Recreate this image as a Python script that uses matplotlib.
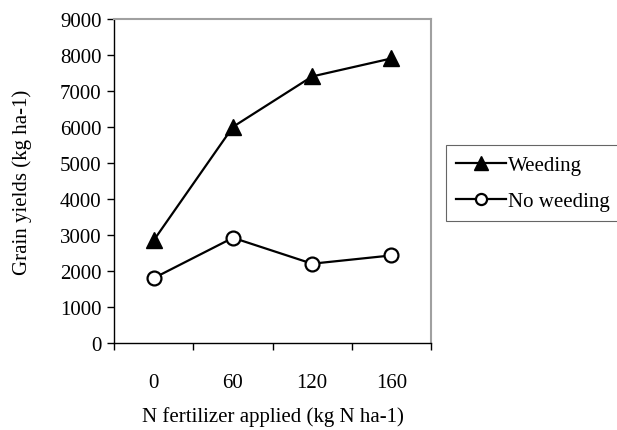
import numpy as np
import matplotlib
matplotlib.use('Agg')
from matplotlib import pyplot as plt

plt.rcParams['font.family'] = ['Liberation Serif', 'DejaVu Serif']

categories = ['0', '60', '120', '160']
weeding = [2850, 6000, 7400, 7900]
no_weeding = [1800, 2920, 2200, 2430]

fs = 15
fig = plt.figure(figsize=(6.17, 4.31), dpi=100)
ax = fig.add_axes([0.185, 0.202, 0.5135, 0.752])

x = np.arange(len(categories))
ax.plot(x, weeding, color='black', lw=1.6, marker='^', ms=12,
        mfc='black', mec='black', label='Weeding')
ax.plot(x, no_weeding, color='black', lw=1.6, marker='o', ms=10,
        mfc='white', mec='black', mew=1.6, label='No weeding')

ax.set_xlim(-0.5, len(categories) - 0.5)
ax.set_ylim(0, 9000)
ax.set_yticks(np.arange(0, 9001, 1000))
# ticks between categories, labels at centers
ax.set_xticks(np.arange(-0.5, len(categories), 1.0))
ax.set_xticklabels([])
ax.set_xticks(x, minor=True)
ax.set_xticklabels(categories, minor=True)
ax.tick_params(axis='x', which='minor', length=0, pad=22, labelsize=fs)
ax.tick_params(axis='x', which='major', direction='out', length=5, width=1)
ax.tick_params(axis='y', direction='out', length=5, width=1, labelsize=fs,
               pad=4)

for s in ['top', 'right']:
    ax.spines[s].set_color('#a0a0a0')
    ax.spines[s].set_linewidth(1.5)
for s in ['left', 'bottom']:
    ax.spines[s].set_color('black')
    ax.spines[s].set_linewidth(1)

ax.set_ylabel('Grain yields (kg ha-1)', fontsize=fs, labelpad=20)
ax.set_xlabel('N fertilizer applied (kg N ha-1)', fontsize=fs, labelpad=10)

leg = ax.legend(loc='upper left', bbox_to_anchor=(1.047, 0.61), fontsize=fs,
                frameon=True, fancybox=False, handlelength=2.4,
                handletextpad=0.1, borderpad=0.5, labelspacing=0.78,
                borderaxespad=0, markerscale=0.8)
leg.get_frame().set_edgecolor('#404040')
leg.get_frame().set_linewidth(0.8)

fig.savefig('out.png', dpi=100)
